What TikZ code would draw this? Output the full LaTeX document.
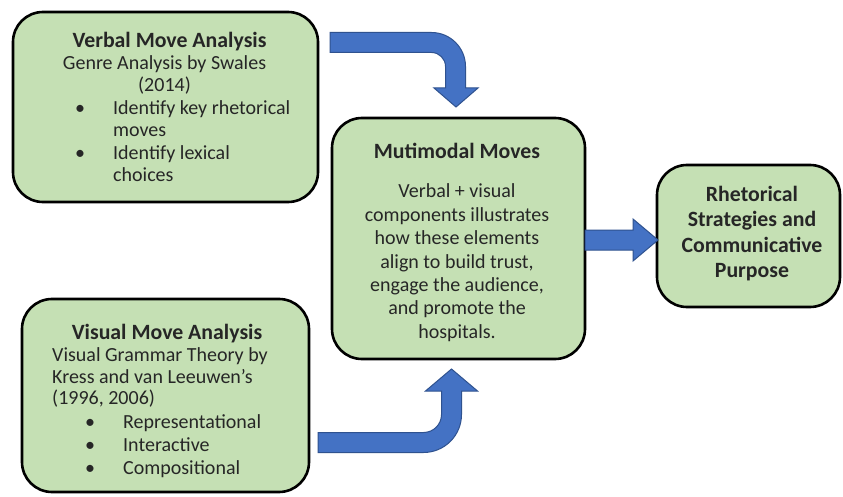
\documentclass[tikz,border=0pt]{standalone}
\usepackage{fontspec}
\setmainfont{Carlito}
\definecolor{boxgreen}{HTML}{C5E0B4}
\definecolor{arrowblue}{HTML}{4472C4}
\definecolor{arrowedge}{HTML}{2F528F}
\definecolor{txt}{HTML}{262626}
\begin{document}
\begin{tikzpicture}[x=1pt,y=-1pt,
  font=\fontsize{20}{22}\selectfont,
  box/.style={draw=black, line width=2.6pt, fill=boxgreen, rounded corners=30pt, inner sep=0pt},
  txtline/.style={anchor=base, inner sep=0pt, text=txt},
  txtleft/.style={anchor=base west, inner sep=0pt, text=txt},
  ttl/.style={txtline, font=\fontsize{21.8}{24}\selectfont\bfseries},
  blockarrow/.style={fill=arrowblue, draw=arrowedge, line width=1pt, line join=miter}]
\useasboundingbox (0,0) rectangle (843,497);
\fill[white] (0,0) rectangle (843,497);

% boxes
\node[box, minimum width=305pt, minimum height=190pt] (verbal) at (165.5,107) {};
\node[box, minimum width=287pt, minimum height=193pt] (visual) at (165.5,395.5) {};
\node[box, minimum width=253pt, minimum height=241pt] (multi) at (458.5,238.5) {};
\node[box, minimum width=183pt, minimum height=142pt] (rhet) at (748.5,236) {};

% verbal box text
\node[ttl] (v0) at (169.5,48) {Verbal Move Analysis};
\node[txtline] (v1) at (164.5,70) {Genre Analysis by Swales};
\node[txtline] (v2) at (164.5,92) {(2014)};
\node[txtline] (vb1) at (80,114.5) {•};
\node[txtleft] (v3) at (113,114.5) {Identify key rhetorical};
\node[txtleft] (v4) at (113,137) {moves};
\node[txtline] (vb2) at (80,159.5) {•};
\node[txtleft] (v5) at (113,159.5) {Identify lexical};
\node[txtleft] (v6) at (113,182) {choices};

% visual box text
\node[ttl] (w0) at (167,339) {Visual Move Analysis};
\node[txtleft] (w1) at (52,361) {Visual Grammar Theory by};
\node[txtleft] (w2) at (52,383) {Kress and van Leeuwen’s};
\node[txtleft] (w3) at (52,404) {(1996, 2006)};
\node[txtline] (wb1) at (90,428) {•};
\node[txtleft] (w4) at (123,428) {Representational};
\node[txtline] (wb2) at (90,451) {•};
\node[txtleft] (w5) at (123,451) {Interactive};
\node[txtline] (wb3) at (90,474) {•};
\node[txtleft] (w6) at (123,474) {Compositional};

% multimodal box text
\node[ttl] (m0) at (457,159) {Mutimodal Moves};
\node[txtline] (m1) at (457,198) {Verbal + visual};
\node[txtline] (m2) at (457,221.3) {components illustrates};
\node[txtline] (m3) at (457,244.6) {how these elements};
\node[txtline] (m4) at (457,268) {align to build trust,};
\node[txtline] (m5) at (457,291.3) {engage the audience,};
\node[txtline] (m6) at (457,314.6) {and promote the};
\node[txtline] (m7) at (457,338) {hospitals.};

% rhetorical box text
\node[ttl] (r1) at (752,201) {Rhetorical};
\node[ttl] (r2) at (752,226.5) {Strategies and};
\node[ttl] (r3) at (752,252) {Communicative};
\node[ttl] (r4) at (752,277.5) {Purpose};

% block arrows
\draw[blockarrow] (330,32.5) -- (431.5,32.5)
  .. controls (450.28,32.5) and (465.5,47.72) .. (465.5,66.5)
  -- (465.5,88) -- (478,88) -- (456,107) -- (434,88) -- (445.5,88) -- (445.5,66.5)
  .. controls (445.5,58.77) and (439.23,52.5) .. (431.5,52.5)
  -- (330,52.5) -- cycle;

\draw[blockarrow] (318,432.5) -- (423.5,432.5)
  .. controls (433.44,432.5) and (441.5,424.44) .. (441.5,414.5)
  -- (441.5,391) -- (425.5,391) -- (451.5,369) -- (477.5,391) -- (461.5,391) -- (461.5,414.5)
  .. controls (461.5,435.49) and (444.49,452.5) .. (423.5,452.5)
  -- (318,452.5) -- cycle;

\draw[blockarrow] (585,230) -- (633,230) -- (633,219) -- (658,240) -- (633,261) -- (633,250) -- (585,250) -- cycle;
\end{tikzpicture}
\end{document}
